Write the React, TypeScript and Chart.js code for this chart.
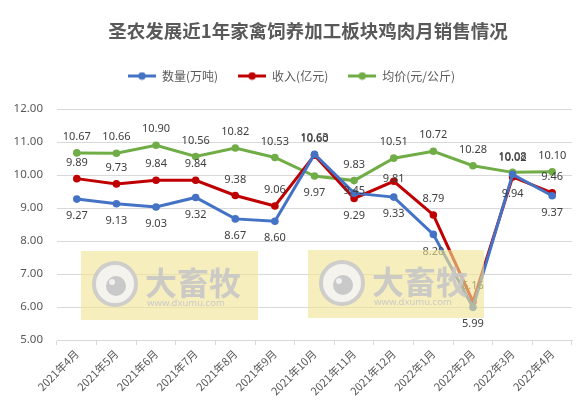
import { useEffect, useRef } from "react";
import { Chart, registerables } from "chart.js";

Chart.register(...registerables);

const titleText = "圣农发展近1年家禽饲养加工板块鸡肉月销售情况";
const categories = [
  "2021年4月", "2021年5月", "2021年6月", "2021年7月", "2021年8月", "2021年9月",
  "2021年10月", "2021年11月", "2021年12月", "2022年1月", "2022年2月", "2022年3月", "2022年4月",
];
const seriesNames = ["数量(万吨)", "收入(亿元)", "均价(元/公斤)"];
const volume = [9.27, 9.13, 9.03, 9.32, 8.67, 8.6, 10.63, 9.45, 9.33, 8.2, 5.99, 10.02, 9.37];
const revenue = [9.89, 9.73, 9.84, 9.84, 9.38, 9.06, 10.6, 9.29, 9.81, 8.79, 6.16, 9.94, 9.46];
const price = [10.67, 10.66, 10.9, 10.56, 10.82, 10.53, 9.97, 9.83, 10.51, 10.72, 10.28, 10.08, 10.1];
const yMin = 5;
const yMax = 12;
const yStep = 1;

const colors = ["#4472C4", "#C00000", "#70AD47"];
// label placement: a = above, b = below, c = on point
const labelPos = [
  ["b", "b", "b", "b", "b", "b", "a", "c", "b", "b", "b", "a", "b"],
  ["a", "a", "a", "a", "a", "a", "a", "b", "c", "a", "a", "b", "a"],
  ["a", "a", "a", "a", "a", "a", "b", "a", "a", "a", "a", "a", "a"],
];

const NUM_FONT = '"Noto Sans", "Noto Sans CJK SC", sans-serif';
const CJK_FONT = '"Noto Sans CJK SC", "Noto Sans", sans-serif';

function legendMarker(color: string) {
  const c = document.createElement("canvas");
  c.width = 28;
  c.height = 9;
  const g = c.getContext("2d")!;
  g.strokeStyle = color;
  g.lineWidth = 3;
  g.beginPath();
  g.moveTo(0, 4.5);
  g.lineTo(28, 4.5);
  g.stroke();
  g.fillStyle = color;
  g.beginPath();
  g.arc(14, 4.5, 3.8, 0, Math.PI * 2);
  g.fill();
  return c;
}

const titlePlugin = {
  id: "customTitle",
  afterDraw(chart: any) {
    const ctx = chart.ctx;
    ctx.save();
    ctx.font = `bold 18.5px ${CJK_FONT}`;
    ctx.fillStyle = "#595959";
    ctx.textAlign = "center";
    ctx.textBaseline = "middle";
    ctx.fillText(titleText, 308, 31);
    ctx.restore();
  },
};

const legendGapPlugin = {
  id: "legendGap",
  beforeLayout(chart: any) {
    const lg = chart.legend;
    if (lg && !lg.__gapPatched) {
      const orig = lg.fit.bind(lg);
      lg.fit = function () {
        orig();
        this.height += 17;
      };
      lg.__gapPatched = true;
    }
  },
};

const labelsPlugin = {
  id: "pointLabels",
  afterDatasetsDraw(chart: any) {
    const ctx = chart.ctx;
    ctx.save();
    ctx.font = `11px ${NUM_FONT}`;
    ctx.fillStyle = "#404040";
    ctx.textAlign = "center";
    ctx.textBaseline = "middle";
    chart.data.datasets.forEach((ds: any, di: number) => {
      const meta = chart.getDatasetMeta(di);
      meta.data.forEach((pt: any, i: number) => {
        const pos = labelPos[di][i];
        const dy = pos === "a" ? -16 : pos === "b" ? 17 : -2;
        ctx.fillText(Number(ds.data[i]).toFixed(2), pt.x, pt.y + dy);
      });
    });
    ctx.restore();
  },
};

function drawWatermark(ctx: CanvasRenderingContext2D, bx: number, by: number, w: number, h: number) {
  ctx.save();
  ctx.fillStyle = "rgba(242,228,150,0.62)";
  ctx.fillRect(bx, by, w, h);
  const cx = bx + 34;
  const cy = by + 33;
  ctx.globalAlpha = 0.9;
  ctx.fillStyle = "#f4f4f4";
  ctx.beginPath();
  ctx.arc(cx, cy, 21, 0, Math.PI * 2);
  ctx.fill();
  ctx.strokeStyle = "#cacaca";
  ctx.lineWidth = 4;
  ctx.stroke();
  ctx.fillStyle = "#c4c4c4";
  ctx.beginPath();
  ctx.arc(cx + 1, cy + 2, 10, 0, Math.PI * 2);
  ctx.fill();
  ctx.fillStyle = "#f4f4f4";
  ctx.beginPath();
  ctx.arc(cx - 3, cy - 2, 3, 0, Math.PI * 2);
  ctx.fill();
  ctx.fillStyle = "#c6c6c6";
  ctx.textAlign = "left";
  ctx.textBaseline = "middle";
  ctx.font = `bold 32px ${CJK_FONT}`;
  ctx.fillText("大畜牧", bx + 64, cy - 1);
  ctx.font = `9.5px ${NUM_FONT}`;
  ctx.fillText("www.dxumu.com", bx + 66, by + 52);
  ctx.restore();
}

const watermarkPlugin = {
  id: "watermark",
  afterDraw(chart: any) {
    const ctx = chart.ctx;
    drawWatermark(ctx, 81, 251, 177, 69);
    drawWatermark(ctx, 308, 250, 176, 68);
  },
};

export default function App() {
  const ref = useRef<HTMLCanvasElement | null>(null);

  useEffect(() => {
    document.body.style.margin = "0";
    if (!ref.current) return;
    const markers = colors.map(legendMarker);
    const values = [volume, revenue, price];
    const chart = new Chart(ref.current, {
      type: "line",
      data: {
        labels: categories,
        datasets: values.map((v, i) => ({
          label: seriesNames[i],
          data: v,
          borderColor: colors[i],
          backgroundColor: colors[i],
          borderWidth: 3,
          pointRadius: 3.8,
          pointHoverRadius: 3.8,
          pointBorderWidth: 0,
          tension: 0,
          fill: false,
        })),
      },
      options: {
        animation: false,
        responsive: true,
        maintainAspectRatio: false,
        layout: { padding: { top: 50, right: 11, left: 11, bottom: 0 } },
        plugins: {
          title: { display: false },
          tooltip: { enabled: false },
          legend: {
            display: true,
            position: "top",
            labels: {
              usePointStyle: true,
              pointStyleWidth: 28,
              padding: 20,
              color: "#595959",
              font: { size: 12, family: CJK_FONT },
              generateLabels: (c: any) => {
                const items = (Chart.defaults.plugins.legend.labels as any).generateLabels(c);
                items.forEach((it: any, i: number) => {
                  it.pointStyle = markers[i];
                });
                return items;
              },
            },
          },
        },
        scales: {
          x: {
            offset: true,
            grid: {
              display: true,
              drawOnChartArea: false,
              drawTicks: true,
              tickLength: 5,
              offset: true,
              color: "#d9d9d9",
            },
            border: { display: true, color: "#d9d9d9" },
            ticks: {
              color: "#595959",
              font: { size: 11, family: CJK_FONT },
              maxRotation: 45,
              minRotation: 45,
              autoSkip: false,
              padding: 2,
            },
            afterFit: (s: any) => {
              s.height = 78;
            },
          },
          y: {
            min: yMin,
            max: yMax,
            ticks: {
              stepSize: yStep,
              color: "#595959",
              font: { size: 11.5, family: NUM_FONT },
              padding: 14,
              callback: (v: any) => Number(v).toFixed(2),
            },
            grid: { color: "#d9d9d9", drawTicks: false },
            border: { display: false },
            afterFit: (s: any) => {
              s.width = 46;
            },
          },
        },
      },
      plugins: [legendGapPlugin, labelsPlugin, watermarkPlugin, titlePlugin],
    });
    return () => chart.destroy();
  }, []);

  return (
    <div style={{ position: "relative", width: 583, height: 418, background: "#fff" }}>
      <canvas ref={ref} />
    </div>
  );
}
